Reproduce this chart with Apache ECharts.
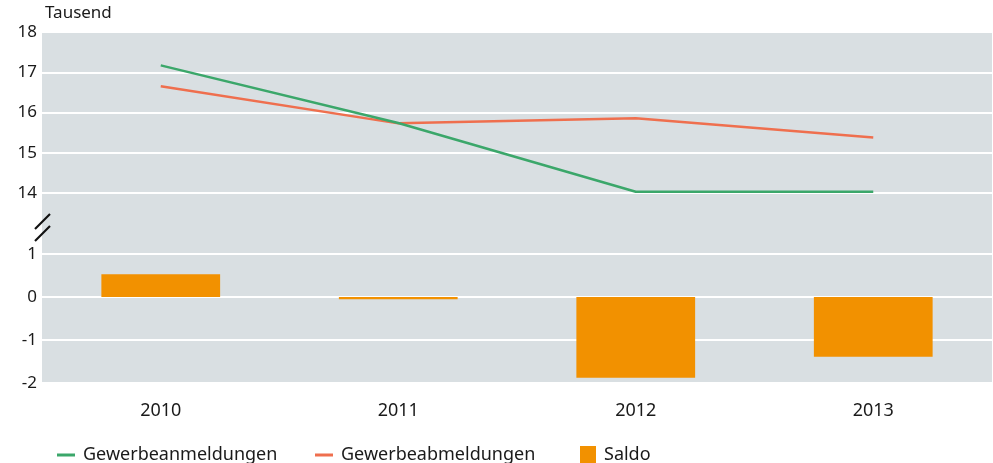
<!DOCTYPE html>
<html>
<head>
<meta charset="utf-8">
<script src="https://cdn.jsdelivr.net/npm/echarts@6/dist/echarts.min.js"></script>
<style>
  html, body { margin: 0; padding: 0; background: #fff; }
  #chart { width: 993px; height: 463px; }
</style>
</head>
<body>
<div id="chart"></div>
<script>
// Gewerbean-/abmeldungen, in Tausend
const years = ['2010', '2011', '2012', '2013'];
const anmeldungen = [17.17, 15.74, 14.03, 14.03];
const abmeldungen = [16.65, 15.73, 15.86, 15.38];
const saldo = [0.53, -0.05, -1.88, -1.39];
const upperTicks = [14, 18, 1];   // min, max, interval
const lowerTicks = [-2, 1, 1];

const font = 'Noto Sans';
const textColor = '#1a1a1a';
const bgGrey = '#d9dfe2';

const chart = echarts.init(document.getElementById('chart'));

const yLabel = {
  color: textColor,
  fontFamily: font,
  fontSize: 17,
  margin: 5,
};

const legendText = { color: textColor, fontSize: 18, fontFamily: font, padding: [0, 0, 0, 3] };

const option = {
  animation: false,
  textStyle: { fontFamily: font },
  graphic: [
    // grauer Hintergrund über beide Teile
    { type: 'rect', z: -10, shape: { x: 42, y: 32, width: 950, height: 351 }, style: { fill: bgGrey } },
    // Achsenbruch
    { type: 'line', z: 10, shape: { x1: 35, y1: 229, x2: 50, y2: 214 }, style: { stroke: '#111', lineWidth: 2.2 } },
    { type: 'line', z: 10, shape: { x1: 35, y1: 241, x2: 50, y2: 226 }, style: { stroke: '#111', lineWidth: 2.2 } },
    { type: 'text', left: 45, top: 5, style: { text: 'Tausend', font: '17px "Noto Sans"', fill: textColor } },
  ],
  grid: [
    { left: 42, right: 1, top: 32, height: 161 },
    { left: 42, right: 1, top: 254, height: 129 },
  ],
  legend: [
    {
      left: 52, top: 441,
      itemWidth: 18, itemHeight: 3, icon: 'rect',
      textStyle: legendText,
      data: ['Gewerbeanmeldungen'],
    },
    {
      left: 310, top: 441,
      itemWidth: 18, itemHeight: 3, icon: 'rect',
      textStyle: legendText,
      data: ['Gewerbeabmeldungen'],
    },
    {
      left: 575, top: 441,
      itemWidth: 16, itemHeight: 18, icon: 'rect',
      textStyle: legendText,
      data: ['Saldo'],
    },
  ],
  xAxis: [
    {
      type: 'category', gridIndex: 0, data: years, boundaryGap: true,
      axisLine: { show: false }, axisTick: { show: false }, axisLabel: { show: false },
    },
    {
      type: 'category', gridIndex: 1, data: years, boundaryGap: true,
      axisLine: { show: false }, axisTick: { show: false },
      axisLabel: { color: textColor, fontSize: 18, fontFamily: font, margin: 19 },
    },
  ],
  yAxis: [
    {
      type: 'value', gridIndex: 0,
      min: upperTicks[0], max: upperTicks[1], interval: upperTicks[2],
      axisLine: { show: false }, axisTick: { show: false },
      axisLabel: yLabel,
      splitLine: { show: true, lineStyle: { color: '#ffffff', width: 2 } },
    },
    {
      type: 'value', gridIndex: 1,
      min: lowerTicks[0], max: lowerTicks[1], interval: lowerTicks[2],
      axisLine: { show: false }, axisTick: { show: false },
      axisLabel: yLabel,
      splitLine: { show: true, lineStyle: { color: '#ffffff', width: 2 } },
    },
  ],
  series: [
    {
      name: 'Gewerbeanmeldungen', type: 'line', xAxisIndex: 0, yAxisIndex: 0,
      data: anmeldungen, showSymbol: false, symbol: 'none',
      lineStyle: { color: '#3ba76a', width: 2.5 }, itemStyle: { color: '#3ba76a' },
      z: 3,
    },
    {
      name: 'Gewerbeabmeldungen', type: 'line', xAxisIndex: 0, yAxisIndex: 0,
      data: abmeldungen, showSymbol: false, symbol: 'none',
      lineStyle: { color: '#ef6f4e', width: 2.5 }, itemStyle: { color: '#ef6f4e' },
      z: 2,
    },
    {
      name: 'Saldo', type: 'bar', xAxisIndex: 1, yAxisIndex: 1,
      data: saldo, barWidth: '50%',
      itemStyle: { color: '#f29100' },
      z: 3,
    },
  ],
};

chart.setOption(option);
</script>
</body>
</html>
